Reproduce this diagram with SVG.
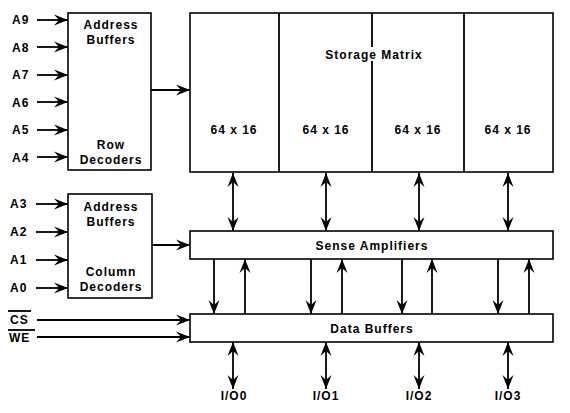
<svg xmlns="http://www.w3.org/2000/svg" width="570" height="413" viewBox="0 0 570 413">
<style>
.box{fill:#fff;stroke:#000;stroke-width:1.6}
.ln{stroke:#000;stroke-width:1.8;fill:none}
.t{font-family:"Liberation Sans",Arial,sans-serif;font-weight:bold;font-size:12px;fill:#000;letter-spacing:1px}
.m{text-anchor:middle}
</style>
<defs>
<marker id="ah" markerWidth="16" markerHeight="12" viewBox="-15 -6 16 12" refX="0" refY="0" orient="auto-start-reverse" markerUnits="userSpaceOnUse">
<path d="M0,0 L-14,-5.5 L-9,0 L-14,5.5 Z" fill="#000"/>
</marker>
</defs>
<rect width="570" height="413" fill="#fff"/>
<g id="row-decoders">
<rect class="box" x="68" y="13" width="83" height="157"/>
<text class="t m" x="111" y="29">Address</text>
<text class="t m" x="111" y="44">Buffers</text>
<text class="t m" x="111" y="149">Row</text>
<text class="t m" x="111" y="164">Decoders</text>
</g>
<g id="column-decoders">
<rect class="box" x="68" y="194" width="84" height="104"/>
<text class="t m" x="111" y="211">Address</text>
<text class="t m" x="111" y="226">Buffers</text>
<text class="t m" x="111" y="276">Column</text>
<text class="t m" x="111" y="291">Decoders</text>
</g>
<g id="storage-matrix">
<rect class="box" x="190" y="13" width="363" height="159"/>
<line class="ln" x1="279" y1="13" x2="279" y2="172" stroke-width="1.6"/>
<line class="ln" x1="372" y1="13" x2="372" y2="172" stroke-width="1.6"/>
<line class="ln" x1="464" y1="13" x2="464" y2="172" stroke-width="1.6"/>
<rect x="368" y="47" width="8" height="14" fill="#fff"/>
<text class="t m" x="374" y="59">Storage Matrix</text>
<text class="t m" x="234" y="134">64 x 16</text>
<text class="t m" x="326" y="134">64 x 16</text>
<text class="t m" x="418" y="134">64 x 16</text>
<text class="t m" x="508" y="134">64 x 16</text>
</g>
<g id="sense-amplifiers">
<rect class="box" x="190" y="231" width="363" height="28"/>
<text class="t m" x="372" y="250">Sense Amplifiers</text>
</g>
<g id="data-buffers">
<rect class="box" x="190" y="314" width="363" height="28"/>
<text class="t m" x="372" y="333">Data Buffers</text>
</g>
<g id="labels">
<text class="t" x="12" y="24">A9</text>
<text class="t" x="12" y="52">A8</text>
<text class="t" x="12" y="79">A7</text>
<text class="t" x="12" y="107">A6</text>
<text class="t" x="12" y="134">A5</text>
<text class="t" x="12" y="162">A4</text>
<text class="t" x="10" y="208">A3</text>
<text class="t" x="10" y="236">A2</text>
<text class="t" x="10" y="264">A1</text>
<text class="t" x="10" y="292">A0</text>
<text class="t" x="10" y="324">CS</text>
<line class="ln" x1="8" y1="311" x2="31" y2="311" stroke-width="1.2"/>
<text class="t" x="9" y="342">WE</text>
<line class="ln" x1="8" y1="330" x2="35" y2="330" stroke-width="1.2"/>
<text class="t m" x="234" y="400">I/O0</text>
<text class="t m" x="326" y="400">I/O1</text>
<text class="t m" x="419" y="400">I/O2</text>
<text class="t m" x="508" y="400">I/O3</text>
</g>
<g id="connectors" class="ln" marker-end="url(#ah)">
<line x1="37" y1="20" x2="68" y2="20"/>
<line x1="37" y1="47" x2="68" y2="47"/>
<line x1="37" y1="75" x2="68" y2="75"/>
<line x1="37" y1="102" x2="68" y2="102"/>
<line x1="37" y1="130" x2="68" y2="130"/>
<line x1="37" y1="157" x2="68" y2="157"/>
<line x1="36" y1="204" x2="68" y2="204"/>
<line x1="36" y1="232" x2="68" y2="232"/>
<line x1="36" y1="260" x2="68" y2="260"/>
<line x1="36" y1="288" x2="68" y2="288"/>
<line x1="37" y1="320" x2="190" y2="320"/>
<line x1="37" y1="337" x2="190" y2="337"/>
<line x1="151" y1="90" x2="190" y2="90"/>
<line x1="152" y1="245" x2="190" y2="245"/>
<line x1="233" y1="173" x2="233" y2="231" marker-start="url(#ah)"/>
<line x1="326" y1="173" x2="326" y2="231" marker-start="url(#ah)"/>
<line x1="419" y1="173" x2="419" y2="231" marker-start="url(#ah)"/>
<line x1="508" y1="173" x2="508" y2="231" marker-start="url(#ah)"/>
<line x1="214" y1="259" x2="214" y2="314"/>
<line x1="245" y1="314" x2="245" y2="259"/>
<line x1="311" y1="259" x2="311" y2="314"/>
<line x1="342" y1="314" x2="342" y2="259"/>
<line x1="402" y1="259" x2="402" y2="314"/>
<line x1="432" y1="314" x2="432" y2="259"/>
<line x1="498" y1="259" x2="498" y2="314"/>
<line x1="529" y1="314" x2="529" y2="259"/>
<line x1="233" y1="342" x2="233" y2="389" marker-start="url(#ah)"/>
<line x1="326" y1="342" x2="326" y2="389" marker-start="url(#ah)"/>
<line x1="419" y1="342" x2="419" y2="389" marker-start="url(#ah)"/>
<line x1="508" y1="342" x2="508" y2="389" marker-start="url(#ah)"/>
</g>
</svg>
